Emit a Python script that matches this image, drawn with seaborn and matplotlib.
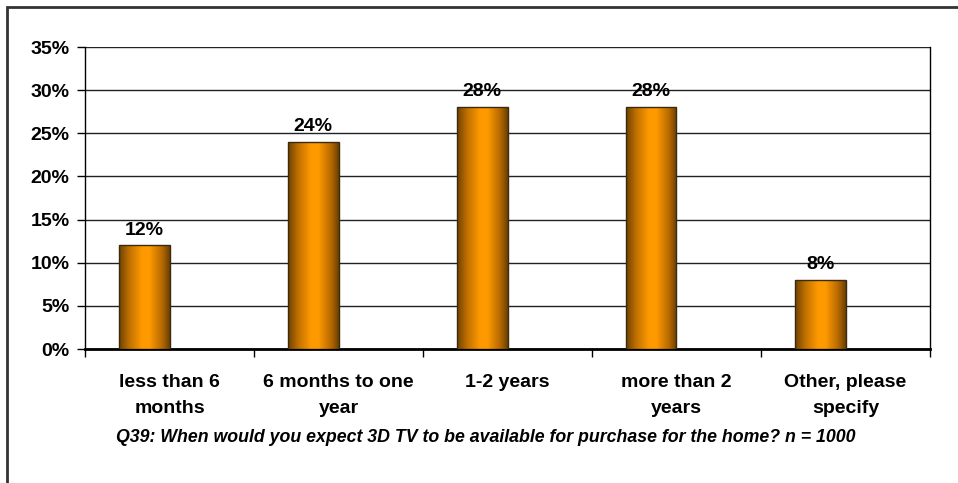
import matplotlib
matplotlib.use("Agg")
import matplotlib.pyplot as plt
import seaborn as sns
import numpy as np
import pandas as pd
from matplotlib.colors import LinearSegmentedColormap
from matplotlib.patches import Rectangle
from matplotlib import font_manager

categories = ["less than 6\nmonths", "6 months to one\nyear", "1-2 years",
              "more than 2\nyears", "Other, please\nspecify"]
values = [12, 24, 28, 28, 8]
value_labels = ["12%", "24%", "28%", "28%", "8%"]
yticks = [0, 5, 10, 15, 20, 25, 30, 35]
ytick_labels = ["0%", "5%", "10%", "15%", "20%", "25%", "30%", "35%"]
caption = "Q39: When would you expect 3D TV to be available for purchase for the home? n = 1000"

sns.set_theme(style="white")
names = {f.name for f in font_manager.fontManager.ttflist}
narrow = "Liberation Sans Narrow" if "Liberation Sans Narrow" in names else "Liberation Sans"
plt.rcParams["font.family"] = ["Liberation Sans", "DejaVu Sans"]
plt.rcParams["text.color"] = "black"
plt.rcParams["xtick.color"] = "black"
plt.rcParams["ytick.color"] = "black"
plt.rcParams["axes.labelcolor"] = "black"

# second (empty) series reproduces the clustered-bar offset of the original
df = pd.DataFrame({
    "cat": categories + categories,
    "val": values + [0] * len(values),
    "series": ["Q39"] * len(values) + ["blank"] * len(values),
})

fig = plt.figure(figsize=(9.58, 4.83), dpi=100)
ax = fig.add_axes([85/958, 1-349/483, (930-85)/958, (349-47)/483])

sns.barplot(data=df, x="cat", y="val", hue="series", hue_order=["Q39", "blank"],
            palette=["#ff9900", "#ffffff"], ax=ax, width=0.6, dodge=True,
            edgecolor="none", linewidth=0, zorder=3, legend=False)

cmap = LinearSegmentedColormap.from_list(
    "g", [(0.0, "#6e4200"), (0.2, "#c07000"), (0.45, "#ff9900"),
          (0.6, "#ff9a00"), (0.85, "#b56800"), (1.0, "#6a4000")])
grad = np.linspace(0, 1, 256).reshape(1, -1)
bar_centers = []
for p in ax.patches:
    h = p.get_height()
    if not np.isfinite(h) or h <= 0:
        continue
    x0, y0 = p.get_x(), p.get_y()
    w = p.get_width()
    bar_centers.append((x0 + w / 2, h))
    im = ax.imshow(grad, cmap=cmap, aspect="auto", extent=[x0, x0+w, y0, y0+h],
                   zorder=3.5, interpolation="bicubic")
    im.set_clip_path(p)
    ax.add_patch(Rectangle((x0, y0), w, h, fill=False, edgecolor="#3a2a10",
                           linewidth=1.0, zorder=4))

bar_centers.sort()
for (cx, h), lab in zip(bar_centers, value_labels):
    ax.text(cx, h + 0.8, lab, ha="center", va="bottom", fontsize=14,
            fontweight="bold", color="black", zorder=5)

ax.set_xlim(-0.5, 4.5)
ax.set_ylim(0, 35)
ax.set_yticks(yticks)
ax.set_yticklabels(ytick_labels, fontsize=14, fontweight="bold", color="black")
ax.yaxis.grid(True, color="#222222", linewidth=1.0, zorder=0)
ax.set_axisbelow(True)

ax.set_xticks(np.arange(-0.5, 5, 1))
ax.set_xticklabels([])
ax.tick_params(axis="x", direction="out", length=6, width=1, color="black", bottom=True)
ax.tick_params(axis="y", direction="out", length=6, width=1, color="black", left=True, pad=5)
for i, c in enumerate(categories):
    ax.text(i, -2.9, c, ha="center", va="top", fontsize=14, fontweight="bold",
            color="black", family=[narrow, "DejaVu Sans"], linespacing=1.7,
            transform=ax.transData)

ax.set_xlabel("")
ax.set_ylabel("")
for s in ["left", "right", "bottom"]:
    ax.spines[s].set_visible(True)
    ax.spines[s].set_color("black")
ax.spines["top"].set_visible(False)
ax.spines["left"].set_linewidth(1.0)
ax.spines["right"].set_linewidth(1.0)
ax.spines["bottom"].set_linewidth(2.0)

fig.text(486/958, 1-437/483, caption, ha="center", va="center", fontsize=12.8,
         fontweight="bold", style="italic", color="black",
         family=[narrow, "DejaVu Sans"])

border = Rectangle((7/958, -0.1), 1.2, 1-7/483+0.1, transform=fig.transFigure,
                   fill=False, edgecolor="#333333", linewidth=2.0)
fig.patches.append(border)

fig.savefig("out.png", dpi=100)
